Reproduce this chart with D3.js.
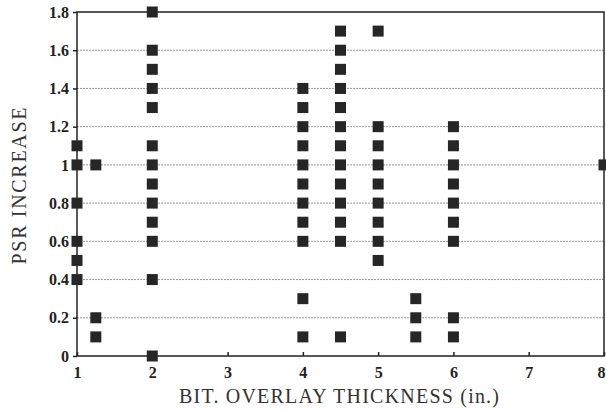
<!DOCTYPE html>
<html><head><meta charset="utf-8">
<script src="https://cdn.jsdelivr.net/npm/d3@7"></script>
<style>body{margin:0;background:#fff}svg{display:block}</style>
</head><body>
<svg id="c" width="606" height="413"></svg>
<script>
const xTicks = [1,2,3,4,5,6,7,8];
const yTicks = [0,0.2,0.4,0.6,0.8,1,1.2,1.4,1.6,1.8];
const xs = [1,1,1,1,1,1, 1.25,1.25,1.25,
  2,2,2,2,2,2,2,2,2,2,2,2,2,
  4,4,4,4,4,4,4,4,4,4,4,
  4.5,4.5,4.5,4.5,4.5,4.5,4.5,4.5,4.5,4.5,4.5,4.5,4.5,
  5,5,5,5,5,5,5,5,5,
  5.5,5.5,5.5,
  6,6,6,6,6,6,6,6,6,
  8];
const ys = [1.1,1.0,0.8,0.6,0.5,0.4, 1.0,0.2,0.1,
  1.8,1.6,1.5,1.4,1.3,1.1,1.0,0.9,0.8,0.7,0.6,0.4,0,
  1.4,1.3,1.2,1.1,1.0,0.9,0.8,0.7,0.6,0.3,0.1,
  1.7,1.6,1.5,1.4,1.3,1.2,1.1,1.0,0.9,0.8,0.7,0.6,0.1,
  1.7,1.2,1.1,1.0,0.9,0.8,0.7,0.6,0.5,
  0.3,0.2,0.1,
  1.2,1.1,1.0,0.9,0.8,0.7,0.6,0.2,0.1,
  1.0];
const xTitle = "BIT. OVERLAY THICKNESS (in.)";
const yTitle = "PSR INCREASE";

const svg = d3.select("#c");
const L=77,R=604,T=12,B=356;
const x = d3.scaleLinear().domain([1,8]).range([L,R]);
const y = d3.scaleLinear().domain([0,1.8]).range([B,T]);
const font = "'Liberation Serif','Times New Roman',serif";

// grid
svg.append("g").selectAll("line").data(yTicks.filter(d=>d>0&&d<1.8)).join("line")
  .attr("x1",L).attr("x2",R).attr("y1",d=>y(d)).attr("y2",d=>y(d))
  .attr("stroke","#999").attr("stroke-width",1).attr("stroke-dasharray","2,1");

// frame
svg.append("rect").attr("x",L).attr("y",T).attr("width",R-L).attr("height",B-T)
  .attr("fill","none").attr("stroke","#222").attr("stroke-width",1.5);

// axes
const ya = svg.append("g").attr("transform",`translate(${L},0)`)
  .call(d3.axisLeft(y).tickValues(yTicks).tickSize(4).tickPadding(4).tickFormat(d=>d3.format("~g")(d)));
ya.select(".domain").remove();
ya.selectAll("text").attr("font-family",font).attr("font-size",16).attr("font-weight","bold").attr("fill","#222");
ya.selectAll("line").attr("stroke","#222").attr("stroke-width",1.5);

const xa = svg.append("g").attr("transform",`translate(0,${B})`)
  .call(d3.axisBottom(x).tickValues(xTicks).tickSize(-4).tickPadding(11).tickFormat(d3.format("d")));
xa.select(".domain").remove();
xa.selectAll("text").attr("font-family",font).attr("font-size",16).attr("font-weight","bold").attr("fill","#222");
xa.selectAll("text").filter(d=>d===8).attr("dx",-3);
xa.selectAll("line").attr("stroke","#222").attr("stroke-width",1.5);

// points
const s=11;
svg.append("g").selectAll("rect").data(xs.map((v,i)=>[v,ys[i]])).join("rect")
  .attr("x",d=>x(d[0])-s/2).attr("y",d=>y(d[1])-s/2).attr("width",s).attr("height",s)
  .attr("fill","#262626");

// titles
svg.append("text").attr("x",339).attr("y",403).attr("text-anchor","middle")
  .attr("font-family",font).attr("font-size",20).attr("fill","#333")
  .attr("textLength",320).attr("lengthAdjust","spacing").text(xTitle);
svg.append("text").attr("transform",`translate(26,186) rotate(-90)`).attr("text-anchor","middle")
  .attr("font-family",font).attr("font-size",20).attr("fill","#333")
  .attr("textLength",157).attr("lengthAdjust","spacing").text(yTitle);
</script>
</body></html>
